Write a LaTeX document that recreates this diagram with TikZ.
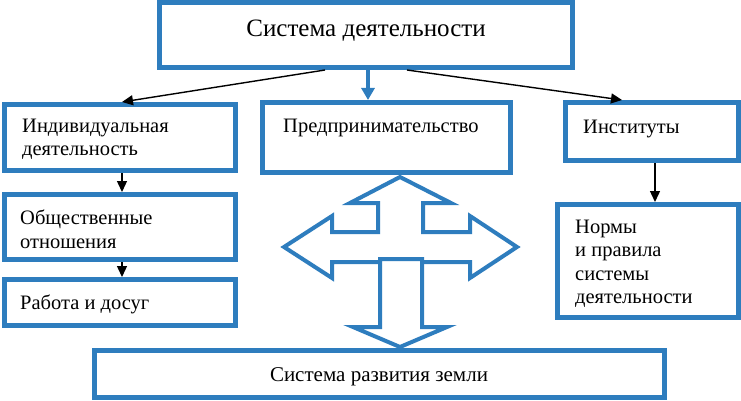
\documentclass[tikz,border=0pt]{standalone}
\usepackage{fontspec}
\setmainfont{Liberation Serif}
\usetikzlibrary{arrows.meta}
\definecolor{boxblue}{RGB}{46,125,190}
\begin{document}
\begin{tikzpicture}[x=1pt,y=-1pt,
  bx/.style={draw=boxblue,line width=5pt,fill=white,inner sep=0pt},
  txt/.style={inner sep=0pt,anchor=base west,font=\fontsize{20.5}{23.5}\selectfont,align=left},
  blk/.style={-{Triangle[length=11pt,width=10pt]},line width=1.4pt,black},
  bluearr/.style={-{Triangle[length=12pt,width=13pt]},line width=4pt,boxblue},
  shapeline/.style={draw=boxblue,line width=4pt,fill=white,line join=miter}]
\useasboundingbox (0,0) rectangle (741,401);
% boxes
\node[bx,minimum width=413pt,minimum height=65pt] (top) at (366,35) {};
\node[bx,minimum width=231pt,minimum height=66pt] (ind) at (120,137.5) {};
\node[bx,minimum width=231pt,minimum height=65pt] (obsh) at (120,227) {};
\node[bx,minimum width=231pt,minimum height=46pt] (rab) at (120,302.5) {};
\node[bx,minimum width=248pt,minimum height=70pt] (pred) at (386.5,137.5) {};
\node[bx,minimum width=173pt,minimum height=58pt] (inst) at (652,131.5) {};
\node[bx,minimum width=181pt,minimum height=113pt] (norm) at (648,261) {};
\node[bx,minimum width=570pt,minimum height=47pt] (bot) at (379.5,374) {};
% texts (base = last line)
\node[inner sep=0pt,anchor=base,font=\fontsize{25}{30}\selectfont] (ttop) at (366,37) {Система деятельности};
\node[txt] (tind) at (22,155.5) {Индивидуальная\\деятельность};
\node[txt] (tobsh) at (20,248) {Общественные\\отношения};
\node[txt] (trab) at (20,309) {Работа и досуг};
\node[txt] (tpred) at (283,132) {Предпринимательство};
\node[txt] (tinst) at (583,133) {Институты};
\node[txt] (tnorm) at (575,303.5) {Нормы\\и правила\\системы\\деятельности};
\node[inner sep=0pt,anchor=base,font=\fontsize{21}{26}\selectfont] (tbot) at (379,381) {Система развития земли};
% connectors
\coordinate (tl) at (325,70);
\coordinate (tr) at (407,70);
\coordinate (tm) at (368,70);
\coordinate (indtop) at (122,102);
\coordinate (insttop) at (622,100);
\coordinate (predtop) at (368,100);
\draw[blk] (tl) -- (indtop);
\draw[blk] (tr) -- (insttop);
\draw[bluearr] (tm) -- (predtop);
\draw[blk] (ind.south -| indtop) -- (obsh.north -| indtop);
\draw[blk] (obsh.south -| indtop) -- (rab.north -| indtop);
\draw[blk] (inst.south -| 655,0) -- (norm.north -| 655,0);
% cross arrow (up, left, right)
\draw[shapeline] (400,177) -- (451,203) -- (423,203) -- (423,232) -- (470,232) -- (470,216)
  -- (517,247) -- (470,278) -- (470,262) -- (332,262) -- (332,278) -- (284,247)
  -- (332,216) -- (332,232) -- (378,232) -- (378,203) -- (350,203) -- cycle;
% down arrow
\draw[shapeline] (380,259) -- (422,259) -- (422,327) -- (447,327) -- (400,347) -- (353,327) -- (380,327) -- cycle;
\end{tikzpicture}
\end{document}
